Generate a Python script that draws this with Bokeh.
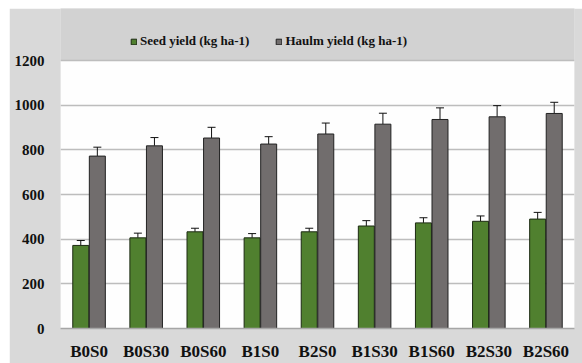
from bokeh.plotting import figure
from bokeh.models import (ColumnDataSource, Range1d, Whisker, TeeHead, Legend, LegendItem,
                          FixedTicker, BoxAnnotation)
from bokeh.transform import dodge
from bokeh.embed import file_html
from bokeh.resources import INLINE

# Treatments and yields (kg ha-1) with standard errors
treatments = ["B0S0", "B0S30", "B0S60", "B1S0", "B2S0", "B1S30", "B1S60", "B2S30", "B2S60"]
seed_yield = [372, 406, 433, 406, 433, 459, 473, 480, 490]
seed_err = [22, 21, 16, 19, 16, 24, 23, 24, 30]
haulm_yield = [772, 818, 853, 826, 871, 915, 936, 948, 963]
haulm_err = [40, 37, 48, 33, 49, 49, 52, 50, 50]
y_ticks = [0, 200, 400, 600, 800, 1000, 1200]
y_max = 1200

SEED_COLOR = "#50802f"
HAULM_COLOR = "#716d6d"
BG = "#d9d9d9"
BAND = "#d2d2d2"
FONT = "Liberation Serif"

src = ColumnDataSource(dict(
    cat=treatments,
    seed=seed_yield,
    seed_hi=[v + e for v, e in zip(seed_yield, seed_err)],
    haulm=haulm_yield,
    haulm_hi=[v + e for v, e in zip(haulm_yield, haulm_err)],
))

# the frame reaches up to the top edge; the band above y_max holds the legend
p = figure(
    x_range=treatments, y_range=Range1d(0, 1433),
    width=573, height=355, margin=(8, 0, 0, 9),
    output_backend="svg", toolbar_location=None,
    min_border_left=51, min_border_right=8, min_border_top=0, min_border_bottom=31,
)
p.background_fill_color = BAND
p.border_fill_color = BG
p.outline_line_color = None

# white plotting area from 0 to y_max, grey band above it
p.add_layout(BoxAnnotation(bottom=0, top=y_max, fill_color="#fefefe", fill_alpha=1,
                           line_color=None, level="image"))
p.add_layout(BoxAnnotation(bottom=y_max, fill_color=BAND, fill_alpha=1,
                           line_color=None, level="image"))

offset, bw = 0.145, 0.28
r_seed = p.vbar(x=dodge("cat", -offset, range=p.x_range), top="seed", width=bw, source=src,
                fill_color=SEED_COLOR, line_color="#1c2a12", line_width=1)
r_haulm = p.vbar(x=dodge("cat", offset, range=p.x_range), top="haulm", width=bw, source=src,
                 fill_color=HAULM_COLOR, line_color="#222222", line_width=1)

for key, hi in (("seed", "seed_hi"), ("haulm", "haulm_hi")):
    sign = -1 if key == "seed" else 1
    w = Whisker(base=dodge("cat", sign * offset, range=p.x_range), lower=key, upper=hi, source=src,
                dimension="height", line_color="#111111", line_width=1,
                upper_head=TeeHead(size=8, line_color="#111111", line_width=1), lower_head=None)
    p.add_layout(w)

# grid
p.xgrid.grid_line_color = None
p.ygrid.grid_line_color = "#bdbdbd"
p.ygrid.grid_line_width = 1.5
p.yaxis.ticker = FixedTicker(ticks=y_ticks)

# axes
for ax in (p.xaxis, p.yaxis):
    ax.major_tick_line_color = None
    ax.minor_tick_line_color = None
    ax.major_label_text_font = FONT
    ax.major_label_text_font_style = "bold"
    ax.major_label_text_color = "#111111"
p.yaxis.axis_line_color = None
p.xaxis.axis_line_color = "#a6a6a6"
p.xaxis.axis_line_width = 1.5
p.yaxis.major_label_text_font_size = "15px"
p.xaxis.major_label_text_font_size = "17px"
p.yaxis.major_label_standoff = 10
p.xaxis.major_label_standoff = 7

legend = Legend(items=[
    LegendItem(label="Seed yield (kg ha-1)", renderers=[r_seed]),
    LegendItem(label="Haulm yield (kg ha-1)", renderers=[r_haulm]),
], orientation="horizontal", location=(70, 279))
legend.background_fill_alpha = 0
legend.border_line_color = None
legend.padding = 0
legend.margin = 0
legend.spacing = 26
legend.glyph_width = 7
legend.glyph_height = 7
legend.label_standoff = 3
legend.label_text_font = FONT
legend.label_text_font_style = "bold"
legend.label_text_font_size = "13px"
legend.label_text_color = "#111111"
legend.label_height = 14
p.add_layout(legend, "center")

open("out.html", "w").write(file_html(p, INLINE))
